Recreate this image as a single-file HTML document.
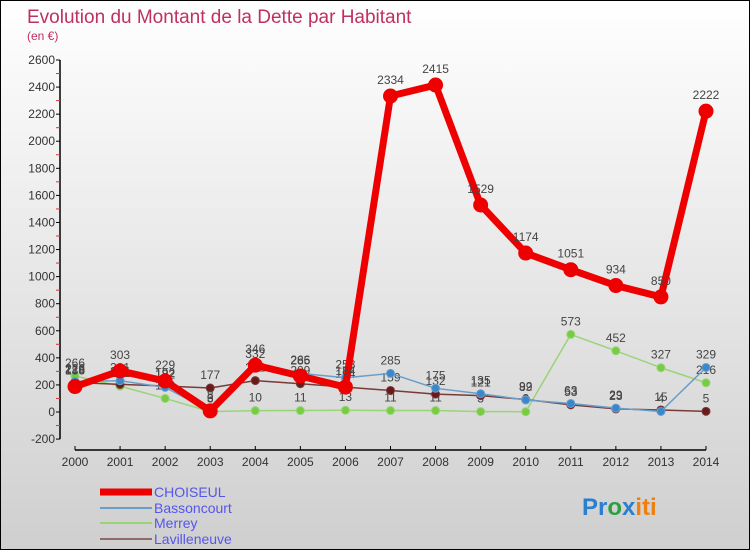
<!DOCTYPE html>
<html><head><meta charset="utf-8"><style>
html,body{margin:0;padding:0}
body{width:750px;height:550px;overflow:hidden;font-family:"Liberation Sans",sans-serif}
svg text{font-family:"Liberation Sans",sans-serif}
</style></head><body>
<svg id="chart" width="750" height="550" xmlns="http://www.w3.org/2000/svg">
<defs><linearGradient id="bg" x1="0" y1="0" x2="0" y2="1"><stop offset="0" stop-color="#ffffff"/><stop offset="1" stop-color="#cfcfcf"/></linearGradient></defs>
<rect x="0" y="0" width="750" height="550" fill="url(#bg)" stroke="#000" stroke-width="2"/>
<text x="27" y="23" font-size="19" fill="#c0305f">Evolution du Montant de la Dette par Habitant</text>
<text x="27" y="40" font-size="12" fill="#c0305f">(en €)</text>
<g id="axes"></g><g id="series"></g>
<g>
<line x1="100" y1="492" x2="152" y2="492" stroke="#ee0000" stroke-width="7"/>
<text x="154" y="497" font-size="14" fill="#5555ee">CHOISEUL</text>
<line x1="100" y1="508" x2="152" y2="508" stroke="#6a9ec9" stroke-width="2"/>
<text x="154" y="513" font-size="14" fill="#5555ee">Bassoncourt</text>
<line x1="100" y1="523" x2="152" y2="523" stroke="#99d477" stroke-width="2"/>
<text x="154" y="528" font-size="14" fill="#5555ee">Merrey</text>
<line x1="100" y1="539" x2="152" y2="539" stroke="#8e6a6a" stroke-width="2"/>
<text x="154" y="544" font-size="14" fill="#5555ee">Lavilleneuve</text>
</g>
<text x="582" y="515" font-size="24" font-weight="bold"><tspan fill="#2a7fd0">Pr</tspan><tspan fill="#2aa040">o</tspan><tspan fill="#2a7fd0">x</tspan><tspan fill="#f07f10">iti</tspan></text>
</svg>
<script>
const years=[2000,2001,2002,2003,2004,2005,2006,2007,2008,2009,2010,2011,2012,2013,2014];
const yTicks=[-200,0,200,400,600,800,1000,1200,1400,1600,1800,2000,2200,2400,2600];
const choiseul=[188,303,229,8,346,266,184,2334,2415,1529,1174,1051,934,850,2222];
const bassoncourt=[226,231,182,6,332,285,253,285,175,135,89,63,29,4,329];
const merrey=[266,191,100,3,10,11,13,11,11,3,2,573,452,327,216];
const lavilleneuve=[218,204,192,177,232,209,184,159,132,121,92,53,23,15,5];
const NS="http://www.w3.org/2000/svg";
function xs(i){return 75+i*(706-75)/14;}
function ys(v){return 412-v*(352/2600);}
function mk(tag,attrs,parent){const e=document.createElementNS(NS,tag);for(const k in attrs)e.setAttribute(k,attrs[k]);parent.appendChild(e);return e;}
const ax=document.getElementById('axes');
let yl=mk('line',{x1:60,y1:ys(2600),x2:60,y2:ys(-200),stroke:'#000','stroke-width':1.5},ax);


yTicks.forEach((t,i)=>{
 let l=mk('line',{x1:56,y1:ys(t),x2:60,y2:ys(t),stroke:'#000'},ax);
 
 
 if(i<yTicks.length-1){let m=mk('line',{x1:56,y1:ys(t+100),x2:60,y2:ys(t+100),stroke:'#e03030'},ax);
 
 }
 let tx=mk('text',{x:55,y:ys(t)+4,'text-anchor':'end','font-size':12,fill:'#333'},ax);
 tx.textContent=t;
 
 
});
let xl=mk('line',{x1:xs(0),y1:450,x2:xs(14),y2:450,stroke:'#000','stroke-width':1.5},ax);


years.forEach((y,i)=>{
 let l=mk('line',{x1:xs(i),y1:446,x2:xs(i),y2:450,stroke:'#000'},ax);
 
 
 let tx=mk('text',{x:xs(i),y:466,'text-anchor':'middle','font-size':12,fill:'#333'},ax);
 tx.textContent=y;
 
 
});
const sg=document.getElementById('series');
function draw(name,vals,color,w,r,dot){
 const g=mk('g',{},sg);
 
 
 let p=mk('polyline',{points:vals.map((v,i)=>xs(i)+','+ys(v)).join(' '),fill:'none',stroke:color,'stroke-width':w,'stroke-linejoin':'round'},g);
 
 
 vals.forEach((v,i)=>{
  let c=mk('circle',{cx:xs(i),cy:ys(v),r:r,fill:dot,stroke:color,'stroke-width':1},g);
  
  
  let t=mk('text',{x:xs(i),y:ys(v)-r-5,'text-anchor':'middle','font-size':12,fill:'#444'},g);
  t.textContent=v;
  
  
 });
}
draw('merrey',merrey,'#99d477',1.5,4,'#77cc44');
draw('lavilleneuve',lavilleneuve,'#7a3a3a',1.5,4,'#6a1a1a');
draw('bassoncourt',bassoncourt,'#6a9ec9',1.5,4,'#3a88cc');
draw('choiseul',choiseul,'#ee0000',7,7,'#ee0000');
</script>
</body></html>
